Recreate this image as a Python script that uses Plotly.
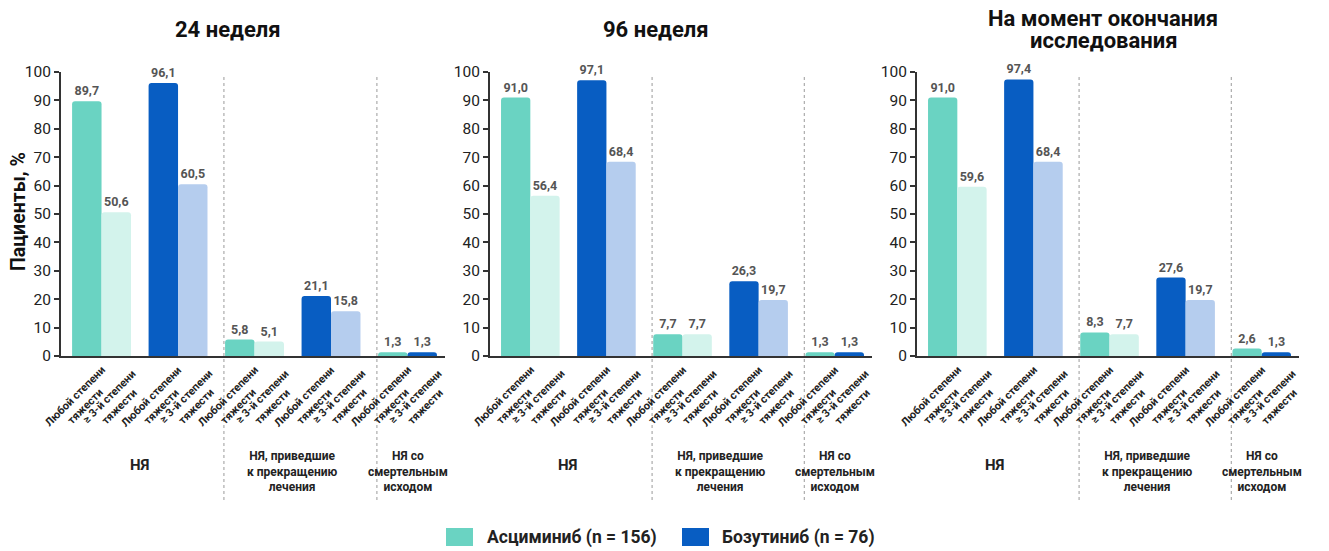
import plotly.graph_objects as go

# page shows the figure with an 8px body margin; positions below are taken
# from the 1329x551 reference and converted to figure coordinates.
PAGE_W, PAGE_H, OFF = 1329, 551, 8
W, H = PAGE_W - OFF, PAGE_H - OFF

def px(x):
    return (x - OFF) / W

def py(y):
    return 1 - (y - OFF) / H

# ---------------- data ----------------
panel_titles = ["24 неделя", "96 неделя", "На момент окончания<br>исследования"]
tick_any = "Любой степени<br>тяжести"
tick_g3 = "≥ 3-й степени<br>тяжести"
# each panel: 5 pairs of bars (first bar / second bar of each pair)
first_vals = [
    [89.7, 96.1, 5.8, 21.1, 1.3],
    [91.0, 97.1, 7.7, 26.3, 1.3],
    [91.0, 97.4, 8.3, 27.6, 2.6],
]
second_vals = [
    [50.6, 60.5, 5.1, 15.8, 1.3],
    [56.4, 68.4, 7.7, 19.7, 1.3],
    [59.6, 68.4, 7.7, 19.7, 1.3],
]
first_ticks = [tick_any, tick_any, tick_any, tick_any, tick_any]
second_ticks = [tick_g3, tick_g3, tick_g3, tick_g3, tick_g3]
group_labels = ["НЯ", "НЯ, приведшие<br>к прекращению<br>лечения", "НЯ со<br>смертельным<br>исходом"]
group_pairs = [[0, 1], [2, 3], [4]]
legend_labels = ["Асциминиб (n = 156)", "Бозутиниб (n = 76)"]
y_title = "Пациенты, %"

# ---------------- style ----------------
TEAL = "#6AD3C2"
LTEAL = "#D3F3EC"
BLUE = "#085DC2"
LBLUE = "#B5CDEE"
first_colors = [TEAL, BLUE, TEAL, BLUE, TEAL]
second_colors = [LTEAL, LBLUE, LTEAL, LBLUE, BLUE]
legend_colors = [TEAL, BLUE]

FONT = "Roboto"
BARGAP = 0.23
BW = (1 - BARGAP) / 2

x_domains_px = [(61, 445), (490, 872), (917, 1299)]
y_top_px, y_bot_px = 72, 356
title_x_px = [228, 655.5, 1103]
TICKFONT = dict(family=FONT, size=11, color="#222222", weight="bold")

fig = go.Figure()
pairs = list(range(5))

for p in range(3):
    xa = "x" if p == 0 else f"x{p+1}"
    ya = "y" if p == 0 else f"y{p+1}"
    for vals, cols, og in ((first_vals[p], first_colors, "a"), (second_vals[p], second_colors, "b")):
        fig.add_trace(go.Bar(
            x=pairs, y=vals, xaxis=xa, yaxis=ya,
            marker=dict(color=cols, cornerradius=3, line=dict(width=0)),
            offsetgroup=og,
            texttemplate="%{y:.1f}", textposition="outside",
            textfont=dict(family=FONT, size=12.5, color="#555555", weight="bold"),
            cliponaxis=False, showlegend=False, hoverinfo="skip",
        ))
    d0, d1 = x_domains_px[p]
    xkey = "xaxis" if p == 0 else f"xaxis{p+1}"
    ykey = "yaxis" if p == 0 else f"yaxis{p+1}"
    fig.layout[xkey] = dict(
        domain=[px(d0), px(d1)], anchor=ya, range=[-0.53, 4.49],
        showline=True, linecolor="#333333", linewidth=2, ticks="",
        showticklabels=False, automargin=False,
        showgrid=False, zeroline=False, fixedrange=True,
    )
    fig.layout[ykey] = dict(
        domain=[py(y_bot_px), py(y_top_px)], anchor=xa, range=[0, 100],
        showline=True, linecolor="#333333", linewidth=2, ticks="outside",
        ticklen=5, tickwidth=1.5, tickcolor="#333333", dtick=10, automargin=False,
        tickfont=dict(family=FONT, size=15.5, color="#222222"),
        showgrid=False, zeroline=False, fixedrange=True,
    )
    # rotated category labels under each bar
    for i in pairs:
        for txt, off, shift in ((first_ticks[i], -BW / 2, -7), (second_ticks[i], BW / 2, -2)):
            fig.add_annotation(
                text=txt, xref=xa, yref="paper", x=i + off, y=py(401),
                xshift=shift, xanchor="center", yanchor="middle", textangle=-45,
                showarrow=False, align="center", font=TICKFONT,
            )
    # panel title (one annotation per line for tight line spacing)
    lines = panel_titles[p].split("<br>")
    for k, line in enumerate(lines):
        ty = 29.5 + (k - (len(lines) - 1) / 2) * 22
        fig.add_annotation(
            text=line, xref="paper", yref="paper",
            x=px(title_x_px[p]), y=py(ty), xanchor="center", yanchor="middle",
            showarrow=False, font=dict(family=FONT, size=22, color="#111111", weight="bold"),
        )
    # group labels and dividers
    for g, members in enumerate(group_pairs):
        center = sum(members) / len(members)
        ypx = 465 if g == 0 else 471
        fig.add_annotation(
            text=group_labels[g], xref=xa, yref="paper", x=center, y=py(ypx),
            xanchor="center", yanchor="middle", showarrow=False, align="center",
            font=dict(family=FONT, size=15 if g == 0 else 12, color="#222222", weight="bold"),
        )
        if g > 0:
            xd = members[0] - BW - 0.015
            fig.add_shape(
                type="line", xref=xa, yref=f"{ya} domain", x0=xd, x1=xd,
                y0=(y_bot_px - 500) / (y_bot_px - y_top_px), y1=(y_bot_px - 77) / (y_bot_px - y_top_px),
                line=dict(color="#9a9a9a", width=1, dash="dot"),
            )

# y-axis title
fig.add_annotation(
    text=y_title, xref="paper", yref="paper", x=px(18.5), y=py(211.5),
    textangle=-90, xanchor="center", yanchor="middle", showarrow=False,
    font=dict(family=FONT, size=19.5, color="#111111", weight="bold"),
)

# legend (manual)
legend_px = [(446, 485), (682, 720)]
for (sx, tx), lab, col in zip(legend_px, legend_labels, legend_colors):
    fig.add_shape(type="rect", xref="paper", yref="paper",
                  x0=px(sx), x1=px(sx + 27), y0=py(546), y1=py(528),
                  fillcolor=col, line=dict(width=0))
    fig.add_annotation(text=lab, xref="paper", yref="paper", x=px(tx), y=py(537),
                       xanchor="left", yanchor="middle", showarrow=False,
                       font=dict(family=FONT, size=17.5, color="#222222", weight="bold"))

fig.update_layout(
    width=W, height=H, margin=dict(l=0, r=0, t=0, b=0, autoexpand=False),
    paper_bgcolor="white", plot_bgcolor="white",
    barmode="group", bargap=BARGAP, bargroupgap=0,
    separators=", ", font=dict(family=FONT),
)

fig.write_html("out.html")
